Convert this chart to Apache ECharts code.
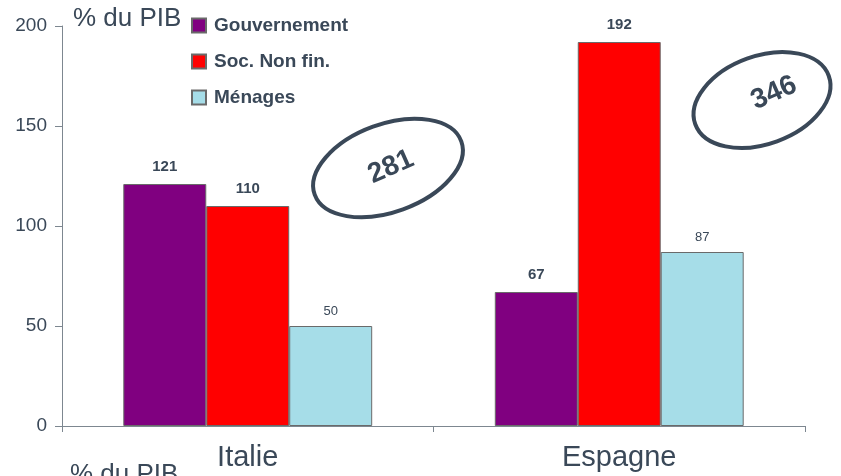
<!DOCTYPE html>
<html>
<head>
<meta charset="utf-8">
<script src="https://cdn.jsdelivr.net/npm/echarts@6/dist/echarts.min.js"></script>
<style>
  html, body { margin: 0; padding: 0; background: #fff; }
  #chart { width: 841px; height: 476px; }
</style>
</head>
<body>
<div id="chart"></div>
<script>
const categories = ['Italie', 'Espagne'];
const gouvernement = [121, 67];
const socNonFin = [110, 192];
const menages = [50, 87];
const yTicks = [0, 50, 100, 150, 200];

const textColor = '#3a4858';
const totals = categories.map((c, i) => gouvernement[i] + socNonFin[i] + menages[i]);

const chart = echarts.init(document.getElementById('chart'));

const boldLabel = {
  show: true,
  position: 'top',
  distance: 10,
  color: textColor,
  fontFamily: 'Liberation Sans, Arial',
  fontWeight: 'bold',
  fontSize: 15,
};

chart.setOption({
  animation: false,
  grid: { left: 62, right: 36, top: 26, bottom: 50, containLabel: false },
  legend: {
    orient: 'vertical',
    left: 191,
    top: 16,
    padding: 0,
    itemWidth: 14,
    itemHeight: 14,
    itemGap: 17,
    icon: 'rect',
    textStyle: {
      color: textColor,
      fontFamily: 'Liberation Sans, Arial',
      fontWeight: 'bold',
      fontSize: 19,
      padding: [0, 0, 0, 3],
    },
    data: ['Gouvernement', 'Soc. Non fin.', 'Ménages'],
  },
  xAxis: {
    type: 'category',
    data: categories,
    axisLine: { lineStyle: { color: '#7d8790', width: 1 } },
    axisTick: { show: true, length: 6, lineStyle: { color: '#7d8790' } },
    axisLabel: {
      color: textColor,
      fontFamily: 'Liberation Sans, Arial',
      fontSize: 29,
      margin: 17,
    },
  },
  yAxis: {
    type: 'value',
    min: yTicks[0],
    max: yTicks[yTicks.length - 1],
    interval: 50,
    splitLine: { show: false },
    axisLine: { show: true, lineStyle: { color: '#7d8790', width: 1 } },
    axisTick: { show: true, length: 7, lineStyle: { color: '#7d8790' } },
    axisLabel: {
      color: textColor,
      fontFamily: 'Liberation Sans, Arial',
      fontSize: 19,
      margin: 15,
    },
  },
  series: [
    {
      name: 'Gouvernement',
      type: 'bar',
      data: gouvernement,
      barGap: '0%',
      barCategoryGap: '33%',
      itemStyle: { color: '#800080', borderColor: '#6a6a6a', borderWidth: 1 },
      label: boldLabel,
    },
    {
      name: 'Soc. Non fin.',
      type: 'bar',
      data: socNonFin,
      itemStyle: { color: '#ff0000', borderColor: '#6a6a6a', borderWidth: 1 },
      label: boldLabel,
    },
    {
      name: 'Ménages',
      type: 'bar',
      data: menages,
      itemStyle: { color: '#a6dde8', borderColor: '#6a6a6a', borderWidth: 1 },
      label: {
        show: true,
        position: 'top',
        distance: 8,
        color: textColor,
        fontFamily: 'Liberation Sans, Arial',
        fontSize: 13,
      },
    },
  ],
  graphic: [
    {
      type: 'text',
      left: 73,
      top: 6,
      style: { text: '% du PIB', fill: textColor, font: '26px "Liberation Sans", Arial' },
    },
    {
      type: 'text',
      left: 70,
      top: 462,
      style: { text: '% du PIB', fill: textColor, font: '26px "Liberation Sans", Arial' },
    },
    {
      type: 'ellipse',
      x: 388, y: 168,
      rotation: 20 * Math.PI / 180,
      shape: { cx: 0, cy: 0, rx: 78, ry: 44 },
      style: { fill: 'none', stroke: textColor, lineWidth: 4 },
    },
    {
      type: 'text',
      x: 391, y: 167,
      rotation: 24 * Math.PI / 180,
      style: {
        text: String(totals[0]),
        fill: textColor,
        font: 'bold 28px "Liberation Sans", Arial',
        align: 'center',
        verticalAlign: 'middle',
      },
    },
    {
      type: 'ellipse',
      x: 762, y: 100,
      rotation: 20 * Math.PI / 180,
      shape: { cx: 0, cy: 0, rx: 71, ry: 44 },
      style: { fill: 'none', stroke: textColor, lineWidth: 4 },
    },
    {
      type: 'text',
      x: 774, y: 93,
      rotation: 24 * Math.PI / 180,
      style: {
        text: String(totals[1]),
        fill: textColor,
        font: 'bold 28px "Liberation Sans", Arial',
        align: 'center',
        verticalAlign: 'middle',
      },
    },
  ],
});
</script>
</body>
</html>
